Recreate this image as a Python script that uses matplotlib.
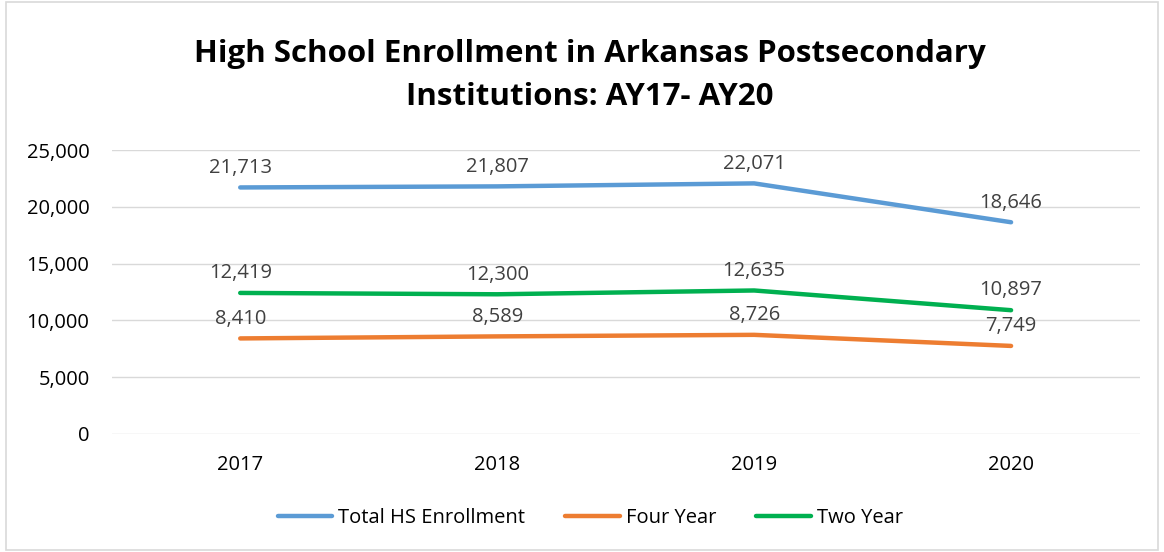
import matplotlib.pyplot as plt
from matplotlib.patches import Rectangle
from matplotlib.ticker import FuncFormatter

years = ["2017", "2018", "2019", "2020"]
total_hs = [21713, 21807, 22071, 18646]
four_year = [8410, 8589, 8726, 7749]
two_year = [12419, 12300, 12635, 10897]

series = [
    ("Total HS Enrollment", total_hs, "#5B9BD5"),
    ("Four Year", four_year, "#ED7D31"),
    ("Two Year", two_year, "#00B050"),
]

plt.rcParams["font.family"] = ["Open Sans", "DejaVu Sans"]

fig = plt.figure(figsize=(11.64, 5.52), dpi=100)
ax = fig.add_axes([0.096, 0.214, 0.883, 0.514])

x = list(range(len(years)))
for name, vals, color in series:
    ax.plot(x, vals, color=color, linewidth=3.2, solid_capstyle="round", label=name)
    for xi, v in zip(x, vals):
        ax.annotate(f"{v:,}", (xi, v), xytext=(0, 7), textcoords="offset points",
                    ha="center", va="bottom", fontsize=14.5, color="#404040")

ax.set_xlim(-0.5, 3.5)
ax.set_ylim(0, 25000)
ax.set_yticks(range(0, 25001, 5000))
ax.yaxis.set_major_formatter(FuncFormatter(lambda v, p: f"{int(v):,}"))
ax.set_xticks(x)
ax.set_xticklabels(years)
ax.tick_params(length=0, labelsize=14.5, colors="#000000", pad=15)
ax.tick_params(axis="y", pad=16)
ax.grid(axis="y", color="#D9D9D9", linewidth=1)
ax.set_axisbelow(True)
for s in ax.spines.values():
    s.set_visible(False)

fig.suptitle("High School Enrollment in Arkansas Postsecondary\nInstitutions: AY17- AY20",
             x=0.507, y=0.93, fontsize=22.5, fontweight="bold", linespacing=1.6)

fig.legend(loc="lower center", bbox_to_anchor=(0.507, 0.01), ncol=3, frameon=False,
           fontsize=14.5, handlelength=2.7, columnspacing=2.0, handletextpad=0.3)

fig.add_artist(Rectangle((0.005, 0.003), 0.99, 0.994, transform=fig.transFigure,
                         fill=False, edgecolor="#D9D9D9", linewidth=1.2))

fig.savefig("out.png", dpi=100)
